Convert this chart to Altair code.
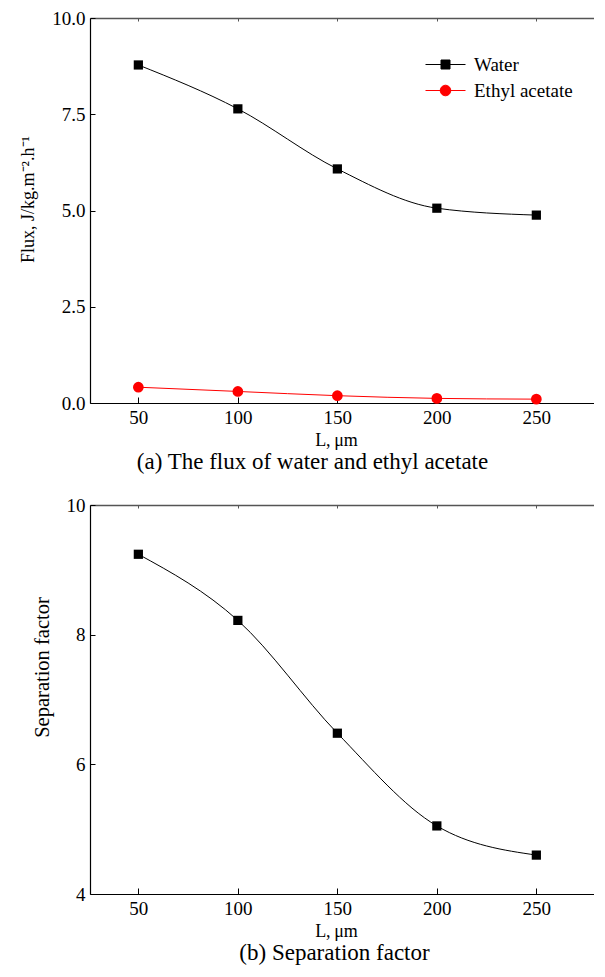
import altair as alt
import pandas as pd

# ---------------- data ----------------
L_um = [50, 100, 150, 200, 250]
water_flux = [8.78, 7.64, 6.08, 5.06, 4.88]
ethyl_flux = [0.41, 0.30, 0.19, 0.12, 0.10]
sep_factor = [9.24, 8.22, 6.48, 5.05, 4.60]
series_names = ["Water", "Ethyl acetate"]
series_colors = ["black", "red"]
x_ticks = [50, 100, 150, 200, 250]
flux_ticks = [0.0, 2.5, 5.0, 7.5, 10.0]
sep_ticks = [4, 6, 8, 10]
x_domain = [25.7, 284.5]
flux_domain = [0, 10]
sep_domain = [4, 10]
caption_a = "(a) The flux of water and ethyl acetate"
caption_b = "(b) Separation factor"
x_title = "L,\u2009μm"
flux_title = "Flux, J/kg.m⁻².h⁻¹"
sep_title = "Separation factor"

FONT = "Liberation Serif"
W = 515
H1 = 385
H2 = 389

flux_df = pd.DataFrame({
    "L": L_um + L_um,
    "flux": water_flux + ethyl_flux,
    "series": [series_names[0]] * len(L_um) + [series_names[1]] * len(L_um),
})
sep_df = pd.DataFrame({"L": L_um, "sep": sep_factor, "series": [series_names[0]] * len(L_um)})

xs = alt.Scale(domain=x_domain, nice=False, zero=False)
color_scale = alt.Scale(domain=series_names, range=series_colors)
shape_scale = alt.Scale(domain=series_names, range=["square", "circle"])
size_scale = alt.Scale(domain=series_names, range=[85, 115])

sq_path = "M-2,0H2M-0.45,-0.45H0.45V0.45H-0.45Z"
circ_path = "M-2,0H2M-0.53,0A0.53,0.53,0,1,0,0.53,0A0.53,0.53,0,1,0,-0.53,0Z"


def main_x_axis():
    return alt.Axis(orient="bottom", values=x_ticks, ticks=False, labelPadding=5,
                    labelFont=FONT, labelFontSize=19, labelColor="black",
                    domainColor="black", domainWidth=1.2, grid=False,
                    title=x_title, titleFont=FONT, titleFontSize=18,
                    titleFontWeight="normal", titleColor="black",
                    titleX=246, titleY=37, titleBaseline="middle", titleAlign="center")


def inner_x_axis(h):
    return alt.Axis(orient="top", offset=-h, values=x_ticks, tickSize=6,
                    tickColor="black", tickWidth=1, labels=False, domain=False,
                    grid=False, title=None)


def border_x_axis(h):
    return alt.Axis(orient="bottom", offset=-h, values=x_ticks, tickSize=3,
                    tickColor="#555555", domainColor="#555555", domainWidth=1.3,
                    labels=False, grid=False, title=None)


def main_y_axis(ticks, fmt, title, tfs, tx, ty):
    return alt.Axis(orient="left", values=ticks, format=fmt, ticks=False, labelPadding=5,
                    labelFont=FONT, labelFontSize=19, labelColor="black",
                    domainColor="black", domainWidth=1.2, grid=False,
                    title=title, titleFont=FONT, titleFontSize=tfs,
                    titleFontWeight="normal", titleColor="black",
                    titleAngle=270, titleX=tx, titleY=ty,
                    titleBaseline="middle", titleAlign="center")


def inner_y_axis(ticks):
    return alt.Axis(orient="right", offset=-W, values=ticks, tickSize=5,
                    tickColor="black", tickWidth=1, labels=False, domain=False,
                    grid=False, title=None)


# ---------------- panel (a) ----------------
ys_a = alt.Scale(domain=flux_domain, nice=False, zero=False)
base_a = alt.Chart(flux_df)

line_a = base_a.mark_line(interpolate="monotone", strokeWidth=1).encode(
    x=alt.X("L:Q", scale=xs, axis=inner_x_axis(H1)),
    y=alt.Y("flux:Q", scale=ys_a, axis=inner_y_axis(flux_ticks)),
    color=alt.Color("series:N", scale=color_scale, legend=None),
)

pts_a = base_a.mark_point(filled=True, opacity=1).encode(
    x=alt.X("L:Q", scale=xs, axis=main_x_axis()),
    y=alt.Y("flux:Q", scale=ys_a, axis=main_y_axis(flux_ticks, ".1f", flux_title, 18, -62, 181)),
    color=alt.Color("series:N", scale=color_scale, legend=None),
    shape=alt.Shape("series:N", scale=shape_scale, legend=None),
    size=alt.Size("series:N", scale=size_scale, legend=None),
)

leg = alt.Legend(orient="none", legendX=345, legendY=36, title=None,
                 labelFont=FONT, labelFontSize=19, labelColor="black",
                 labelOffset=18, symbolSize=400, symbolStrokeWidth=1,
                 symbolOpacity=1, rowPadding=5, padding=0,
                 labelExpr="datum.value == 'Water' ? '\u00a0Water' : datum.label")

legend_a = base_a.transform_filter("false").mark_point(filled=True, opacity=1).encode(
    x=alt.X("L:Q", scale=xs, axis=border_x_axis(H1)),
    y=alt.Y("flux:Q", scale=ys_a, axis=None),
    fill=alt.Fill("series:N", scale=alt.Scale(domain=series_names, range=series_colors), legend=leg),
    stroke=alt.Stroke("series:N", scale=alt.Scale(domain=series_names, range=series_colors), legend=leg),
    shape=alt.Shape("series:N", scale=alt.Scale(domain=series_names, range=[sq_path, circ_path]), legend=leg),
)

panel_a = alt.layer(line_a, pts_a, legend_a).resolve_scale(
    shape="independent", fill="independent", stroke="independent"
).resolve_axis(x="independent", y="independent").properties(
    width=W, height=H1,
    title=alt.TitleParams(text=caption_a, orient="bottom", anchor="middle", frame="group",
                          fontSize=23, font=FONT, fontWeight="normal", color="black",
                          offset=2, dx=-35),
)

# ---------------- panel (b) ----------------
ys_b = alt.Scale(domain=sep_domain, nice=False, zero=False)
base_b = alt.Chart(sep_df)

line_b = base_b.mark_line(interpolate="monotone", strokeWidth=1, color="black").encode(
    x=alt.X("L:Q", scale=xs, axis=inner_x_axis(H2)),
    y=alt.Y("sep:Q", scale=ys_b, axis=inner_y_axis(sep_ticks)),
)

pts_b = base_b.mark_point(filled=True, opacity=1, shape="square", size=85, color="black").encode(
    x=alt.X("L:Q", scale=xs, axis=main_x_axis()),
    y=alt.Y("sep:Q", scale=ys_b, axis=main_y_axis(sep_ticks, "d", sep_title, 20.5, -48, 162)),
)

border_b = base_b.mark_point(opacity=0).encode(
    x=alt.X("L:Q", scale=xs, axis=border_x_axis(H2)),
    y=alt.Y("sep:Q", scale=ys_b, axis=None),
)

panel_b = alt.layer(line_b, pts_b, border_b).resolve_axis(
    x="independent", y="independent"
).properties(
    width=W, height=H2,
    title=alt.TitleParams(text=caption_b, orient="bottom", anchor="middle", frame="group",
                          fontSize=23, font=FONT, fontWeight="normal", color="black",
                          offset=2, dx=-13),
)

chart = alt.vconcat(panel_a, panel_b, spacing=20).properties(
    padding={"left": 10, "top": 0, "right": -12, "bottom": 0}
).configure_view(stroke="transparent").configure(background="white")

chart.save("out.html", embed_options={"renderer": "svg", "actions": False})
